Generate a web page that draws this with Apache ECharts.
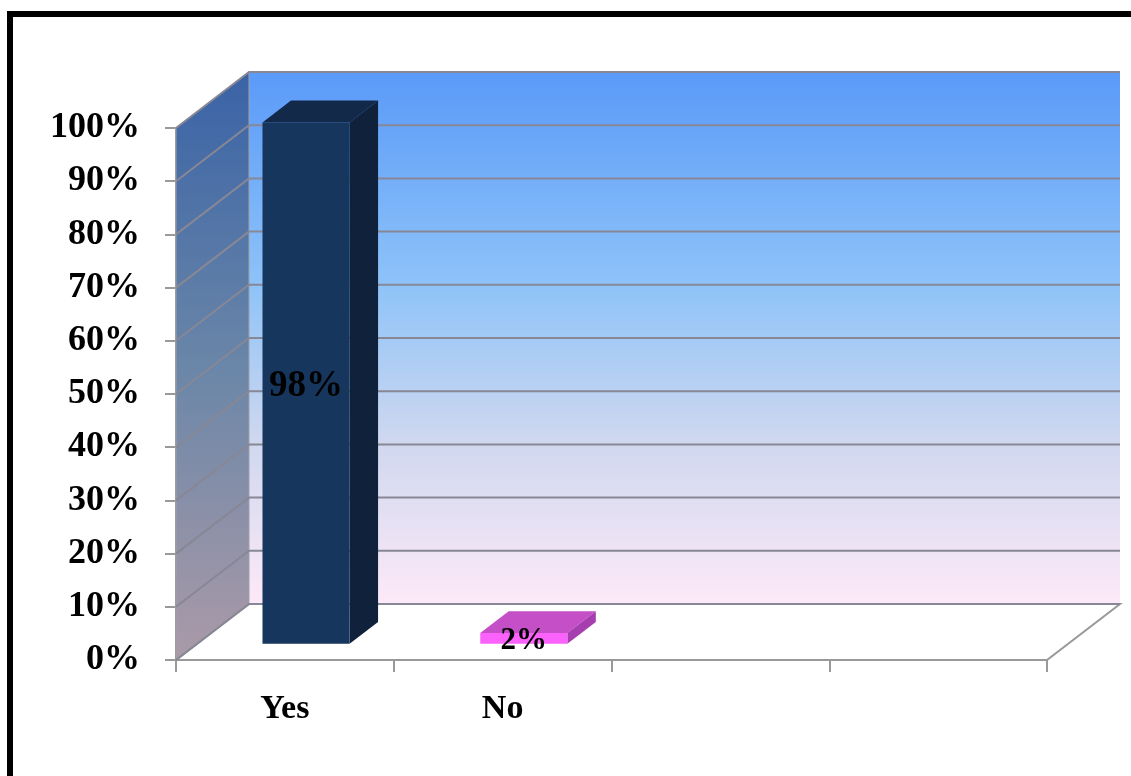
<!DOCTYPE html>
<html>
<head>
<meta charset="utf-8">
<script src="https://cdn.jsdelivr.net/npm/echarts@6/dist/echarts.min.js"></script>
<style>
html,body{margin:0;padding:0;background:#fff;}
#chart{width:1131px;height:776px;}
</style>
</head>
<body>
<div id="chart"></div>
<script>
// ---- data ----
var categories = ['Yes', 'No', '', ''];
var values = [98, 2, null, null];
var yTicks = [0, 10, 20, 30, 40, 50, 60, 70, 80, 90, 100];
var barLabels = ['98%', '2%'];

// ---- styling constants ----
var DX = 73, DY = -56;          // depth offset of back wall
var D0 = 0.29, D1 = 0.68;       // bar depth (front/back fraction)
var BAR_W = 0.4;                // bar width as fraction of band
var FONT = '"Liberation Serif", "Times New Roman", serif';
var barColors = [
  { front: '#17365d', top: '#13294a', side: '#0f213b' },
  { front: '#fb62fb', top: '#c44fc6', side: '#a73eb0' }
];
var labelSizes = [37, 31];
var gridColor = '#878795';

var chart = echarts.init(document.getElementById('chart'));

function extent(api) {
  var band = api.size([1, 0])[0];
  var p0 = api.coord([0, 0]);
  var p3 = api.coord([categories.length - 1, 0]);
  var top = api.coord([0, 100])[1];
  return { left: p0[0] - band / 2, right: p3[0] + band / 2, y0: p0[1], yTop: top, band: band };
}

var option = {
  animation: false,
  grid: { left: 176, right: 84, top: 128, bottom: 116 },
  xAxis: {
    type: 'category',
    data: categories,
    boundaryGap: true,
    axisLine: { show: true, lineStyle: { color: '#999', width: 2 } },
    axisTick: { show: true, length: 12, lineStyle: { color: '#999', width: 2 } },
    axisLabel: { color: '#000', fontFamily: FONT, fontWeight: 'bold', fontSize: 34, margin: 32 },
    splitLine: { show: false }
  },
  yAxis: {
    type: 'value',
    min: 0, max: 100, interval: 10,
    axisLine: { show: true, lineStyle: { color: '#999', width: 2 } },
    axisTick: { show: true, length: 11, lineStyle: { color: '#999', width: 2 } },
    axisLabel: { color: '#000', fontFamily: FONT, fontWeight: 'bold', fontSize: 36, margin: 36,
      formatter: '{value}%' },
    splitLine: { show: false }
  },
  graphic: [{
    type: 'rect', z: 100,
    shape: { x: 10, y: 14, width: 1300, height: 900 },
    style: { fill: null, stroke: '#000', lineWidth: 6 }
  }],
  series: [
    {
      // walls + floor
      type: 'custom', z: 1, silent: true,
      data: [[0, 0]],
      renderItem: function (params, api) {
        var e = extent(api);
        return {
          type: 'group',
          children: [
            { type: 'rect',
              shape: { x: e.left + DX, y: e.yTop + DY, width: e.right - e.left, height: e.y0 - e.yTop },
              style: { fill: new echarts.graphic.LinearGradient(0, 0, 0, 1, [
                { offset: 0, color: '#5a9af9' },
                { offset: 0.4, color: '#8ec3f8' },
                { offset: 0.7, color: '#d0d8ef' },
                { offset: 1, color: '#fde9f8' }
              ]) } },
            { type: 'polygon',
              shape: { points: [[e.left, e.yTop], [e.left + DX, e.yTop + DY], [e.left + DX, e.y0 + DY], [e.left, e.y0]] },
              style: { fill: new echarts.graphic.LinearGradient(0, 0, 0, 1, [
                { offset: 0, color: '#3a63a6' },
                { offset: 0.5, color: '#6a86a8' },
                { offset: 1, color: '#ab9aa8' }
              ]), stroke: '#a0a0a8', lineWidth: 1 } },
            { type: 'polygon',
              shape: { points: [[e.left, e.y0], [e.right, e.y0], [e.right + DX, e.y0 + DY], [e.left + DX, e.y0 + DY]] },
              style: { fill: '#ffffff', stroke: '#999', lineWidth: 2 } }
          ]
        };
      }
    },
    {
      // gridlines on side & back walls
      type: 'custom', z: 2, silent: true,
      data: yTicks.map(function (v) { return [0, v]; }),
      renderItem: function (params, api) {
        var e = extent(api);
        var y = api.coord([0, api.value(1)])[1];
        return {
          type: 'polyline',
          shape: { points: [[e.left, y], [e.left + DX, y + DY], [e.right + DX, y + DY]] },
          style: { fill: null, stroke: gridColor, lineWidth: 2 }
        };
      }
    },
    {
      // 3D bars
      type: 'custom', z: 3,
      data: values.map(function (v, i) { return [i, v]; }).filter(function (d) { return d[1] != null; }),
      renderItem: function (params, api) {
        var i = api.value(0), v = api.value(1);
        var c = api.coord([i, 0]);
        var yv = api.coord([i, v])[1];
        var band = api.size([1, 0])[0];
        var w = band * BAR_W;
        var xl = c[0] - w / 2, xr = c[0] + w / 2, yb = c[1];
        var fx = DX * D0, fy = DY * D0, bx = DX * D1, by = DY * D1;
        var col = barColors[i];
        return {
          type: 'group',
          children: [
            { type: 'polygon',
              shape: { points: [[xl + fx, yv + fy], [xr + fx, yv + fy], [xr + bx, yv + by], [xl + bx, yv + by]] },
              style: { fill: col.top } },
            { type: 'polygon',
              shape: { points: [[xr + fx, yv + fy], [xr + bx, yv + by], [xr + bx, yb + by], [xr + fx, yb + fy]] },
              style: { fill: col.side } },
            { type: 'rect',
              shape: { x: xl + fx, y: yv + fy, width: w, height: yb - yv },
              style: { fill: col.front } },
            { type: 'text', z2: 10,
              style: { text: barLabels[i], x: c[0] + fx, y: (yv + yb) / 2 + fy + 3,
                align: 'center', verticalAlign: 'middle',
                font: 'bold ' + labelSizes[i] + 'px ' + FONT, fill: '#000' } }
          ]
        };
      }
    }
  ]
};
chart.setOption(option);
</script>
</body>
</html>
